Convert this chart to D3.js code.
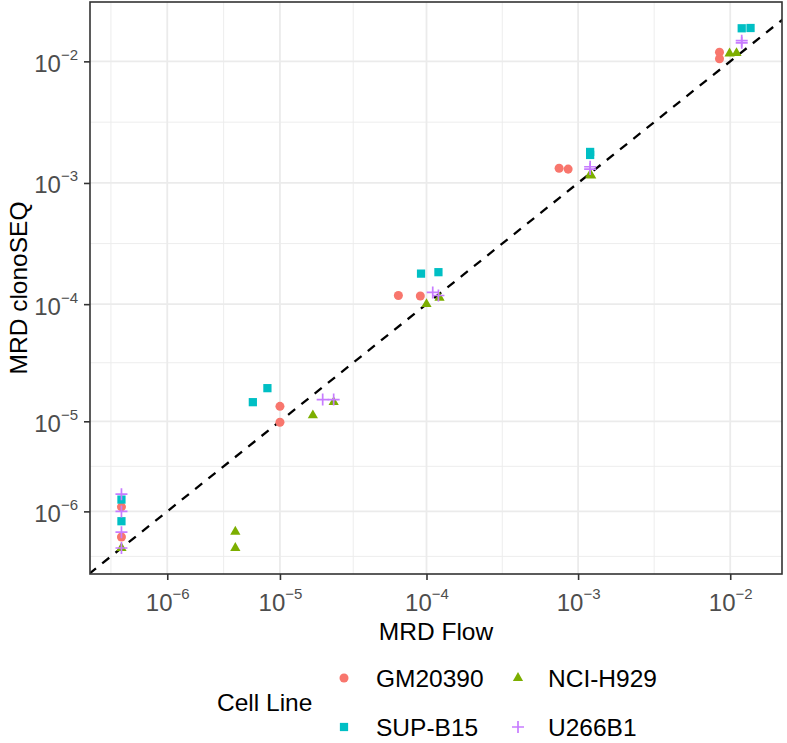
<!DOCTYPE html>
<html><head><meta charset="utf-8">
<script src="https://cdn.jsdelivr.net/npm/d3@7"></script>
<style>
body{margin:0;background:#fff;}
svg{display:block;font-family:"Liberation Sans",Arial,Helvetica,sans-serif;}
</style>
</head><body>
<svg id="chart" width="787" height="743"></svg>
<script>
// ---- data (MRD values as fractions; 0 = not detected) ----
const cellLines = ["GM20390", "NCI-H929", "SUP-B15", "U266B1"];
const lineColors = ["#F8766D", "#7CAE00", "#00BFC4", "#C77CFF"];

const flowGM20390  = [0, 0, 1.0e-5, 1.0e-5, 6.5e-5, 9.1e-5, 7.5e-4, 8.6e-4, 8.5e-3, 8.5e-3];
const clonoGM20390 = [1.18e-6, 2.3e-7, 1.36e-5, 9.8e-6, 1.18e-4, 1.17e-4, 1.32e-3, 1.30e-3, 1.19e-2, 1.05e-2];

const flowNCIH929  = [0, 4.6e-6, 4.6e-6, 1.71e-5, 2.38e-5, 1.0e-4, 1.22e-4, 1.2e-3, 1.22e-3, 9.9e-3, 1.1e-2];
const clonoNCIH929 = [0, 3.6e-7, 0, 1.13e-5, 1.48e-5, 1.0e-4, 1.13e-4, 1.17e-3, 1.15e-3, 1.16e-2, 1.17e-2];

const flowSUPB15   = [0, 0, 8.1e-6, 6.3e-6, 9.2e-5, 1.2e-4, 1.2e-3, 1.2e-3, 1.19e-2, 1.36e-2];
const clonoSUPB15  = [1.5e-6, 6.6e-7, 1.96e-5, 1.48e-5, 1.79e-4, 1.84e-4, 1.8e-3, 1.7e-3, 1.87e-2, 1.88e-2];

const flowU266B1   = [0, 0, 0, 0, 2.0e-5, 2.38e-5, 1.1e-4, 1.2e-4, 1.2e-3, 1.2e-3, 1.19e-2, 1.19e-2];
const clonoU266B1  = [1.77e-6, 1.0e-6, 3.5e-7, 0, 1.56e-5, 1.56e-5, 1.25e-4, 1.18e-4, 1.30e-3, 1.36e-3, 1.42e-2, 1.48e-2];

const tickExponents = [-6, -5, -4, -3, -2];
const pseudoOffset = 1e-6;   // axis transform: log10(value + 1e-6)

// ---- build ----
const flows = [flowGM20390, flowNCIH929, flowSUPB15, flowU266B1];
const clonos = [clonoGM20390, clonoNCIH929, clonoSUPB15, clonoU266B1];
const points = [];
cellLines.forEach((c, i) => flows[i].forEach((f, j) => points.push({line: c, idx: i, flow: f, clono: clonos[i][j]})));

const tr = v => Math.log10(v + pseudoOffset);
function expand(ext) { const d = (ext[1] - ext[0]) * 0.05; return [ext[0] - d, ext[1] + d]; }

const P = {left: 90, right: 782, top: 2, bottom: 574};
const x = d3.scaleLinear().domain(expand(d3.extent(points, d => tr(d.flow)))).range([P.left, P.right]);
const y = d3.scaleLinear().domain(expand(d3.extent(points, d => tr(d.clono)))).range([P.bottom, P.top]);
const color = d3.scaleOrdinal().domain(cellLines).range(lineColors);

const svg = d3.select("#chart");
svg.append("rect").attr("width", 787).attr("height", 743).attr("fill", "#fff");

const majors = tickExponents.map(e => tr(Math.pow(10, e)));
function minorBreaks(b, dom) {
  const n = b.length;
  const ext = [b[0] - (b[1] - b[0]), ...b, b[n - 1] + (b[n - 1] - b[n - 2])];
  const m = [];
  for (let i = 0; i < ext.length - 1; i++) m.push((ext[i] + ext[i + 1]) / 2);
  return m.filter(v => v >= dom[0] && v <= dom[1]);
}

const grid = svg.append("g");
minorBreaks(majors, x.domain()).forEach(v => grid.append("line")
  .attr("x1", x(v)).attr("x2", x(v)).attr("y1", P.top).attr("y2", P.bottom)
  .attr("stroke", "#EBEBEB").attr("stroke-width", 0.9));
minorBreaks(majors, y.domain()).forEach(v => grid.append("line")
  .attr("y1", y(v)).attr("y2", y(v)).attr("x1", P.left).attr("x2", P.right)
  .attr("stroke", "#EBEBEB").attr("stroke-width", 0.9));
majors.forEach(v => {
  grid.append("line").attr("x1", x(v)).attr("x2", x(v)).attr("y1", P.top).attr("y2", P.bottom)
    .attr("stroke", "#EBEBEB").attr("stroke-width", 1.8);
  grid.append("line").attr("y1", y(v)).attr("y2", y(v)).attr("x1", P.left).attr("x2", P.right)
    .attr("stroke", "#EBEBEB").attr("stroke-width", 1.8);
});

// identity line (clipped)
svg.append("clipPath").attr("id", "clip").append("rect")
  .attr("x", P.left).attr("y", P.top).attr("width", P.right - P.left).attr("height", P.bottom - P.top);
const lo = Math.min(x.domain()[0], y.domain()[0]), hi = Math.max(x.domain()[1], y.domain()[1]);
svg.append("line").attr("clip-path", "url(#clip)")
  .attr("x1", x(lo)).attr("y1", y(lo)).attr("x2", x(hi)).attr("y2", y(hi))
  .attr("stroke", "#000").attr("stroke-width", 2.3).attr("stroke-dasharray", "9,8");

// points
const symbolFor = {
  "GM20390": d3.symbol().type(d3.symbolCircle).size(64)(),
  "NCI-H929": d3.symbol().type(d3.symbolTriangle).size(45)(),
  "SUP-B15": d3.symbol().type(d3.symbolSquare).size(68)(),
  "U266B1": "M-6,0H6M0,-6V6"
};
function drawMark(g, line) {
  const p = g.append("path").attr("d", symbolFor[line]);
  if (line === "U266B1") p.attr("fill", "none").attr("stroke", color(line)).attr("stroke-width", 1.7);
  else p.attr("fill", color(line));
  return p;
}
const ptsG = svg.append("g").attr("clip-path", "url(#clip)");
points.forEach(d => {
  const g = ptsG.append("g").attr("transform", `translate(${x(tr(d.flow))},${y(tr(d.clono))})`);
  drawMark(g, d.line);
});

// panel border
svg.append("rect").attr("x", P.left).attr("y", P.top).attr("width", P.right - P.left).attr("height", P.bottom - P.top)
  .attr("fill", "none").attr("stroke", "#333333").attr("stroke-width", 1.6);

// axes
const supLabel = (sel, e) => {
  sel.append("tspan").text("10").attr("font-size", 24);
  sel.append("tspan").text("\u2212" + Math.abs(e)).attr("font-size", 15).attr("dy", -12);
};
const xAxis = svg.append("g").attr("transform", `translate(0,${P.bottom})`)
  .call(d3.axisBottom(x).tickValues(majors).tickSize(6).tickPadding(0).tickFormat(""));
xAxis.select(".domain").remove();
xAxis.selectAll(".tick line").attr("stroke", "#333333").attr("stroke-width", 1.6);
xAxis.selectAll(".tick").each(function(d, i) {
  const t = d3.select(this).append("text").attr("fill", "#4D4D4D").attr("text-anchor", "middle")
    .attr("x", 0).attr("y", 37);
  supLabel(t, tickExponents[i]);
});
const yAxis = svg.append("g").attr("transform", `translate(${P.left},0)`)
  .call(d3.axisLeft(y).tickValues(majors).tickSize(6).tickPadding(0).tickFormat(""));
yAxis.select(".domain").remove();
yAxis.selectAll(".tick line").attr("stroke", "#333333").attr("stroke-width", 1.6);
yAxis.selectAll(".tick").each(function(d, i) {
  const t = d3.select(this).append("text").attr("fill", "#4D4D4D").attr("text-anchor", "end")
    .attr("x", -12).attr("y", 10);
  supLabel(t, tickExponents[i]);
});

// axis titles
svg.append("text").attr("x", (P.left + P.right) / 2).attr("y", 640).attr("text-anchor", "middle")
  .attr("font-size", 24.5).attr("fill", "#000").text("MRD Flow");
svg.append("text").attr("transform", `translate(27,${(P.top + P.bottom) / 2}) rotate(-90)`)
  .attr("text-anchor", "middle").attr("font-size", 24.5).attr("fill", "#000").text("MRD clonoSEQ");

// legend
const leg = svg.append("g");
leg.append("text").attr("x", 217).attr("y", 702 + 8.5).attr("font-size", 24.5).text("Cell Line");
const keyX = [344, 518], textX = [376, 548], rowY = [678, 727];
cellLines.forEach((c, i) => {
  const r = Math.floor(i / 2), col = i % 2;
  const g = leg.append("g").attr("transform", `translate(${keyX[col]},${rowY[r]})`);
  drawMark(g, c);
  leg.append("text").attr("x", textX[col]).attr("y", rowY[r] + 8.5).attr("font-size", 24.5).text(c);
});
</script>
</body></html>
